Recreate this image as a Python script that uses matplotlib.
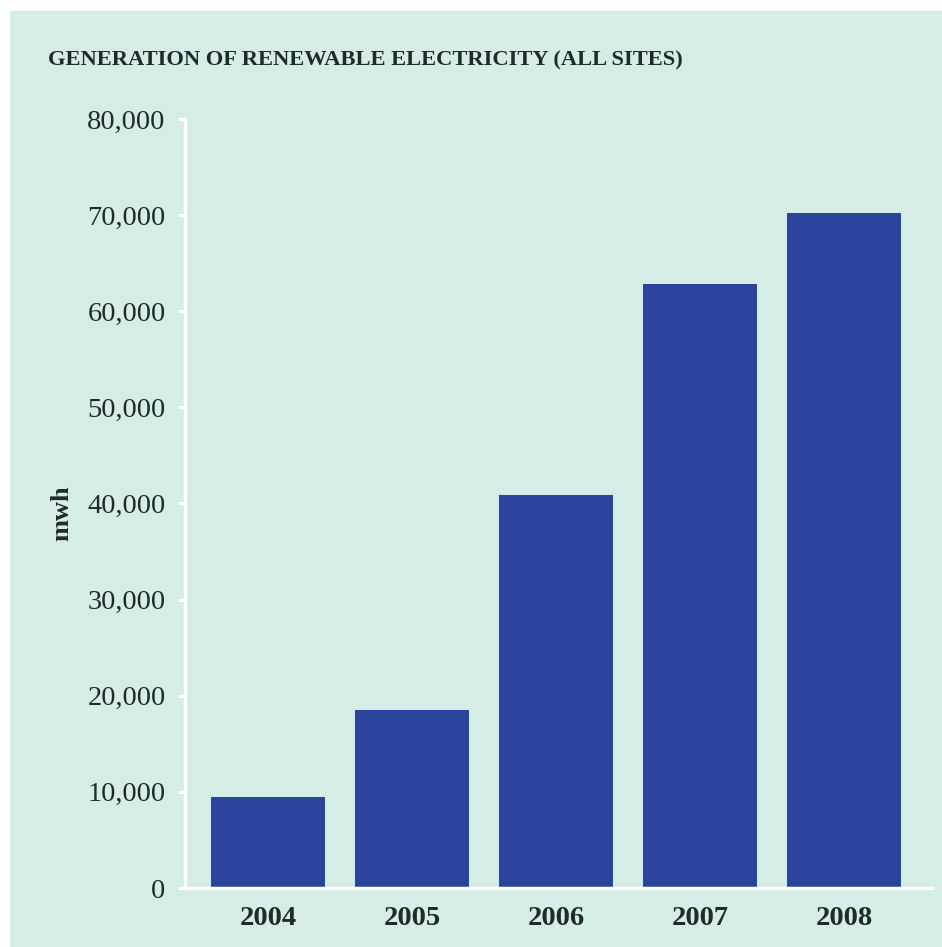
import matplotlib
matplotlib.use("Agg")
import matplotlib.pyplot as plt
from matplotlib.patches import Rectangle
from matplotlib.ticker import FuncFormatter

years = ["2004", "2005", "2006", "2007", "2008"]
mwh = [9500, 18500, 40900, 62800, 70200]
yticks = [0, 10000, 20000, 30000, 40000, 50000, 60000, 70000, 80000]

bg = "#d6ece6"
bar_color = "#29449a"
text_color = "#1f2b2b"

plt.rcParams["font.family"] = ["Liberation Serif", "DejaVu Serif"]

fig = plt.figure(figsize=(9.42, 9.47), dpi=100)
fig.patch.set_facecolor("white")
# mint panel behind the chart
fig.patches.append(Rectangle((10 / 942, 0), 1, 1 - 11 / 947,
                             transform=fig.transFigure, facecolor=bg,
                             edgecolor="none", zorder=-1))

ax = fig.add_axes([185 / 942, 59 / 947, 747 / 942, 769 / 947])
ax.set_facecolor(bg)
ax.bar(range(len(years)), mwh, width=0.79, color=bar_color, zorder=2)

ax.set_xlim(-0.576, 4.61)
ax.set_ylim(0, 80000)
ax.set_yticks(yticks)
ax.yaxis.set_major_formatter(FuncFormatter(lambda v, p: f"{int(v):,}"))
ax.set_xticks(range(len(years)))
ax.set_xticklabels(years, fontweight="bold")

for s in ["top", "right"]:
    ax.spines[s].set_visible(False)
for s in ["left", "bottom"]:
    ax.spines[s].set_color("white")
    ax.spines[s].set_linewidth(2.5)

ax.tick_params(axis="y", colors="white", length=5, width=2, pad=9,
               labelsize=20.5, labelcolor=text_color)
ax.tick_params(axis="x", length=0, pad=13, labelsize=20.5,
               labelcolor=text_color)

fig.text(48 / 942, 1 - 60 / 947, "GENERATION OF RENEWABLE ELECTRICITY (ALL SITES)",
         fontsize=16.2, fontweight="bold", color=text_color, va="center", ha="left")
fig.text(62 / 942, 1 - 513 / 947, "mwh", rotation=90, fontsize=19,
         fontweight="bold", color=text_color, va="center", ha="center")

fig.savefig("out.png", dpi=100, facecolor=fig.get_facecolor())
